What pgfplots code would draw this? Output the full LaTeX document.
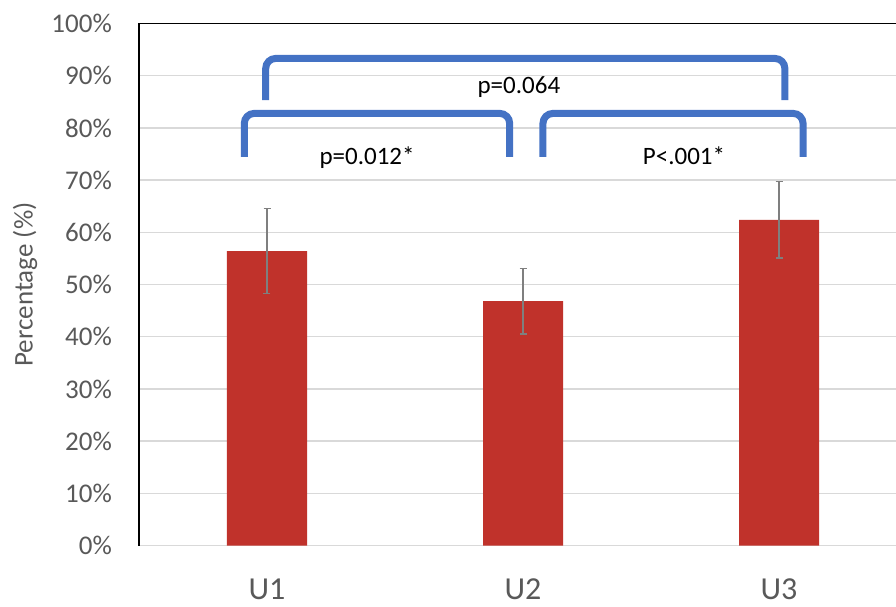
\documentclass[border=0pt]{standalone}
\usepackage{pgfplots}
\pgfplotsset{compat=1.18}
\usepackage{fontspec}
\setmainfont{Carlito}
\definecolor{barred}{HTML}{C0322B}
\definecolor{brblue}{HTML}{4472C4}
\definecolor{gridc}{HTML}{D9D9D9}
\definecolor{txtgray}{HTML}{595959}
\definecolor{errgray}{HTML}{7F7F7F}
\begin{document}
\begin{tikzpicture}
\begin{axis}[
  scale only axis,
  width=768pt, height=522pt,
  xmin=-0.5, xmax=2.5,
  ymin=0, ymax=100,
  clip=false,
  axis line style={draw=none},
  major tick length=0pt,
  ymajorgrids,
  grid style={color=gridc, line width=1.3pt},
  ytick={0,10,20,30,40,50,60,70,80,90,100},
  yticklabels={0\%,10\%,20\%,30\%,40\%,50\%,60\%,70\%,80\%,90\%,100\%},
  yticklabel style={font=\fontsize{27}{32}\selectfont, text=txtgray, anchor=east, inner sep=0pt, xshift=-27pt},
  xtick={0,1,2},
  xticklabels={U1,U2,U3},
  xticklabel style={font=\fontsize{32}{36}\selectfont, text=txtgray, anchor=north, inner sep=0pt, yshift=-33pt},
  ylabel={Percentage (\%)},
  every axis y label/.style={at={(rel axis cs:0,0.5)}, xshift=-114pt, rotate=90, anchor=center, font=\fontsize{27}{32}\selectfont, text=txtgray},
]
\addplot[ybar, bar width=80pt, fill=barred, draw=none,
  error bars/.cd, y dir=both, y explicit,
  error bar style={color=errgray, line width=1.3pt},
  error mark options={rotate=90, mark size=3.5pt, line width=1.3pt, color=errgray}]
  coordinates {
    (0,56.4) +- (0,8.1)
    (1,46.8) +- (0,6.3)
    (2,62.4) +- (0,7.3)
  };
\draw[black, line width=1.3pt] (rel axis cs:0,0) -- (rel axis cs:0,1) -- (rel axis cs:1,1);
\draw[brblue, line width=7pt, rounded corners=10pt]
  (axis cs:-0.0887,74.46) -- (axis cs:-0.0887,82.78) -- (axis cs:0.948,82.78) -- (axis cs:0.948,74.46);
\draw[brblue, line width=7pt, rounded corners=10pt]
  (axis cs:1.078,74.46) -- (axis cs:1.078,82.78) -- (axis cs:2.094,82.78) -- (axis cs:2.094,74.46);
\draw[brblue, line width=7pt, rounded corners=10pt]
  (axis cs:-0.005,85.33) -- (axis cs:-0.005,93.31) -- (axis cs:2.023,93.31) -- (axis cs:2.023,85.33);
\node[anchor=base, font=\fontsize{25}{30}\selectfont, inner sep=0pt] at (axis cs:0.391,72.9) {p=0.012*};
\node[anchor=base, font=\fontsize{25}{30}\selectfont, inner sep=0pt] at (axis cs:1.629,72.9) {P<.001*};
\node[anchor=base, font=\fontsize{25}{30}\selectfont, inner sep=0pt] at (axis cs:0.984,86.5) {p=0.064};
\coordinate (bl) at (rel axis cs:0,0);
\end{axis}
\pgfresetboundingbox
\path (bl) ++(-139pt,-60.5pt) rectangle ++(896pt,606pt);
\end{tikzpicture}
\end{document}
